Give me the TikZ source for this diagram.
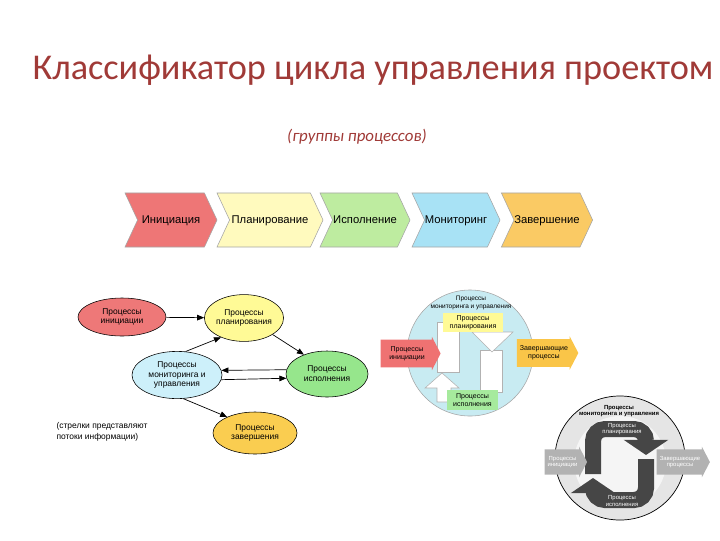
\documentclass[tikz,border=0pt]{standalone}
\usepackage{fontspec}
\setmainfont{Liberation Sans}
\newfontfamily\titlefont{Carlito}
\usetikzlibrary{arrows.meta,shapes.geometric,shapes.symbols,shapes.arrows}

\definecolor{titlered}{RGB}{160,58,55}
\definecolor{chred}{RGB}{238,118,118}
\definecolor{chyellow}{RGB}{255,250,190}
\definecolor{chgreen}{RGB}{190,236,160}
\definecolor{chblue}{RGB}{168,226,245}
\definecolor{chorange}{RGB}{250,202,100}
\definecolor{elred}{RGB}{238,120,120}
\definecolor{elyellow}{RGB}{255,250,150}
\definecolor{elblue}{RGB}{205,240,250}
\definecolor{elgreen}{RGB}{150,230,140}
\definecolor{elorange}{RGB}{250,205,80}
\definecolor{cycblue}{RGB}{200,235,242}

\begin{document}
\begin{tikzpicture}[x=0.025cm,y=-0.025cm,
  stage/.style={signal, signal from=west, signal to=east, signal pointer angle=130,
    draw=gray!70, minimum height=1.35cm, inner sep=0pt, text height=0.75em, text depth=0.2em,
    font=\fontsize{8}{9}\selectfont},
  proc/.style={ellipse, draw=black, line width=0.4pt, align=center, inner sep=0pt,
    font=\fontsize{6}{7}\selectfont},
  flow/.style={-{Triangle[length=5pt,width=4pt]}, line width=0.5pt},
  box/.style={rectangle, align=center, inner sep=0pt, font=\fontsize{5}{5.8}\selectfont},
  blockarr/.style={single arrow, align=center, inner xsep=2pt, inner ysep=4.5pt,
    single arrow head extend=0.07cm, single arrow tip angle=125,
    font=\fontsize{5}{5.8}\selectfont},
  hollow/.style={draw=gray!60, fill=white, line width=0.4pt},
  band/.style={draw=gray!55!black, line width=0.4cm, rounded corners=0.3cm,
    -{Triangle[length=0.38cm,width=1.1cm]}}]
\useasboundingbox (0,0) rectangle (720,540);

% title
\node[font=\titlefont\fontsize{25.8}{31}\selectfont, text=titlered] (title) at (373,70)
  {Классификатор цикла управления проектом};
\node[font=\titlefont\itshape\fontsize{12}{14}\selectfont, text=titlered] (sub) at (357,137)
  {(группы процессов)};

% stages
\node[stage, fill=chred, minimum width=2.3cm] (sini) at (171,220) {Инициация};
\node[stage, fill=chyellow, minimum width=2.65cm] (splan) at (270,220) {Планирование};
\node[stage, fill=chgreen, minimum width=2.25cm] (sisp) at (365,220) {Исполнение};
\node[stage, fill=chblue, minimum width=2.2cm] (smon) at (456,220) {Мониторинг};
\node[stage, fill=chorange, minimum width=2.28cm] (szav) at (547,220) {Завершение};

% process groups
\node[proc, fill=elred, minimum width=2.2cm, minimum height=0.95cm] (pini) at (122,317)
  {Процессы\\инициации};
\node[proc, fill=elyellow, minimum width=1.88cm, minimum height=1.17cm] (pplan) at (244,318)
  {Процессы\\планирования};
\node[proc, fill=elblue, minimum width=2.25cm, minimum height=1.18cm] (pmon) at (177,375)
  {Процессы\\мониторинга и\\управления};
\node[proc, fill=elgreen, minimum width=2.05cm, minimum height=1.15cm] (pisp) at (327,374)
  {Процессы\\исполнения};
\node[proc, fill=elorange, minimum width=2.1cm, minimum height=1.05cm] (pzav) at (255,433)
  {Процессы\\завершения};
\node[align=left, font=\fontsize{6}{7.5}\selectfont] (note) at (102,432)
  {(стрелки представляют\\ потоки информации)};

\draw[flow] (pini) -- (pplan);
\draw[flow] (pmon.70) -- (pplan.220);
\draw[flow] (pplan.-30) -- (pisp.140);
\draw[flow] (pisp.174) -- (pmon.6);
\draw[flow] (pmon.-6) -- (pisp.186);
\draw[flow] (pmon.-75) -- (pzav.150);

% cycle, colour
\node[circle, draw=gray!70, fill=cycblue, minimum size=3.15cm] (cyc) at (470,353) {};
\node[box, font=\fontsize{4.6}{5.3}\selectfont] (cyctext) at (471,303)
  {Процессы\\мониторинга и управления};
\draw[hollow] (437,322) rectangle (459,372);
\draw[hollow] (425,388) -- (442,373) -- (459,388) -- (451,388) -- (451,402)
  -- (437,402) -- (437,388) -- cycle;
\draw[hollow] (480,350) rectangle (502,392);
\draw[hollow] (472,332) -- (513,332) -- (492,352) -- cycle;
\node[box, fill=elyellow, minimum width=1.5cm, minimum height=0.48cm] (cplan) at (473,322.5)
  {Процессы\\планирования};
\node[box, fill=elgreen!85, minimum width=1.28cm, minimum height=0.5cm] (cisp) at (472.5,400)
  {Процессы\\исполнения};
\node[blockarr, fill=elred!95!red, minimum height=1.5cm] (cini) at (407,353.5)
  {Процессы\\инициации};
\node[blockarr, fill=elorange!90!orange, minimum height=1.47cm] (czav) at (544,353)
  {Завершающие\\процессы};

% cycle, grey
\node[ellipse, draw=black, fill=gray!20, line width=0.5pt,
  minimum width=3.25cm, minimum height=3.1cm] (gcyc) at (620,458) {};
\node[circle, fill=gray!8, minimum size=2.3cm] (ginner) at (620,462) {};
\draw[band] (646,459) -- (646,500) -- (593,500) -- (593,478);
\draw[band] (593,474) -- (593,429) -- (646,429) -- (646,455);
\node[box, font=\bfseries\fontsize{4.2}{4.8}\selectfont] (gtext) at (619,411)
  {Процессы\\мониторинга и управления};
\node[box, text=white, font=\fontsize{4.2}{4.8}\selectfont] (gplan) at (622,429)
  {Процессы\\планирования};
\node[box, text=white, font=\fontsize{4.2}{4.8}\selectfont] (gisp) at (622,501)
  {Процессы\\исполнения};
\node[blockarr, fill=gray!60, text=white, font=\fontsize{4.2}{4.8}\selectfont,
  inner ysep=4.5pt, minimum height=1.03cm] (gini) at (562.5,462) {Процессы\\инициации};
\node[blockarr, fill=gray!60, text=white, font=\fontsize{4.2}{4.8}\selectfont,
  inner ysep=4.5pt, minimum height=1.1cm] (gzav) at (680,462) {Завершающие\\процессы};
\end{tikzpicture}
\end{document}
